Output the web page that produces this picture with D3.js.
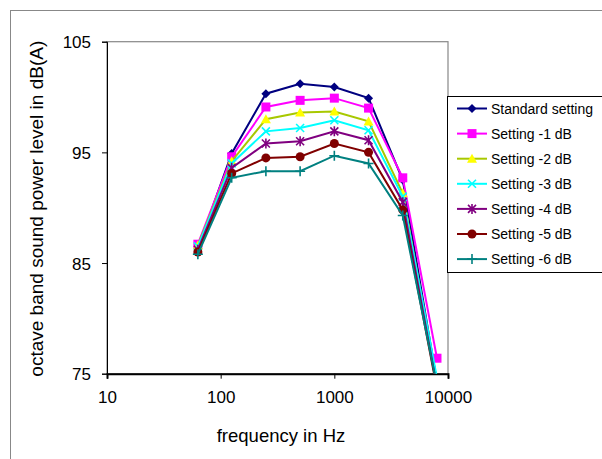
<!DOCTYPE html>
<html lang="en">
<head>
<meta charset="utf-8">
<script src="https://d3js.org/d3.v7.min.js"></script>
<title>Octave band sound power level</title>
<style>
  body { margin:0; background:#fff; }
  svg { display:block; font-family:"Liberation Sans", Arial, sans-serif; }
  .axis path, .axis line { stroke:#000; }
  .axis text { font-size:17px; fill:#000; font-family:"Liberation Sans", Arial, sans-serif; }
</style>
</head>
<body>
<script>
var width = 602, height = 459;

// data
var freqs = [63, 125, 250, 500, 1000, 2000, 4000, 8000];
var seriesNames = ["Standard setting", "Setting -1 dB", "Setting -2 dB", "Setting -3 dB",
                   "Setting -4 dB", "Setting -5 dB", "Setting -6 dB"];
var standard = [86.3, 94.9, 100.3, 101.2, 100.9, 99.9, 92.5, 74.2];
var minus1   = [86.7, 94.6, 99.1, 99.7, 99.9, 99.0, 92.7, 76.4];
var minus2   = [86.6, 94.2, 98.0, 98.6, 98.7, 97.8, 91.3, 74.3];
var minus3   = [86.5, 94.0, 96.9, 97.2, 97.9, 97.0, 91.0, 74.6];
var minus4   = [86.2, 93.6, 95.8, 96.0, 96.9, 96.1, 90.5, 73.8];
var minus5   = [86.0, 93.1, 94.5, 94.6, 95.8, 95.0, 89.8, 73.6];
var minus6   = [85.8, 92.7, 93.3, 93.3, 94.7, 94.0, 89.3, 73.9];
var yTicks = [75, 85, 95, 105];
var xTicks = [10, 100, 1000, 10000];

var values = [standard, minus1, minus2, minus3, minus4, minus5, minus6];
var lineColors   = ["#000080", "#ff00ff", "#a8c800", "#00ffff", "#800080", "#800000", "#008080"];
var markerColors = ["#000080", "#ff00ff", "#ffff00", "#00ffff", "#800080", "#800000", "#008080"];
var markerTypes  = ["diamond", "square", "triangle", "x", "star", "circle", "plus"];

var plotLeft = 107, plotRight = 448, plotTop = 41.7, plotBottom = 373.7;

var x = d3.scaleLog().domain([10, 10000]).range([plotLeft, plotRight]);
var y = d3.scaleLinear().domain([75, 105]).range([plotBottom, plotTop]);

var svg = d3.select("body").append("svg")
  .attr("width", width).attr("height", height);

// outer chart border
svg.append("rect").attr("x", 10.5).attr("y", 10.5).attr("width", 640).attr("height", 480)
  .attr("fill", "none").attr("stroke", "#888").attr("stroke-width", 1);

// plot frame
svg.append("rect").attr("x", plotLeft).attr("y", plotTop)
  .attr("width", plotRight - plotLeft).attr("height", plotBottom - plotTop)
  .attr("fill", "none").attr("stroke", "#888").attr("stroke-width", 1.2);

svg.append("defs").append("clipPath").attr("id", "clip")
  .append("rect").attr("x", plotLeft).attr("y", plotTop - 10)
  .attr("width", plotRight - plotLeft + 10).attr("height", plotBottom - plotTop + 10);

// axes
var yAxis = svg.append("g").attr("class", "axis").attr("transform", "translate(" + plotLeft + ",0)")
  .call(d3.axisLeft(y).tickValues(yTicks).tickSize(5).tickPadding(11).tickFormat(d3.format("d")));
yAxis.select(".domain").attr("stroke", "#888");
yAxis.selectAll(".tick line").attr("stroke", "#444");
yAxis.selectAll("text").attr("dy", "0.36em");

var xAxis = svg.append("g").attr("class", "axis").attr("transform", "translate(0," + plotBottom + ")")
  .call(d3.axisBottom(x).tickValues(xTicks).tickSize(5).tickPadding(12).tickFormat(d3.format("d")));
xAxis.select(".domain").attr("stroke-width", 2);

// axis titles
svg.append("text")
  .attr("transform", "translate(43," + ((plotTop + plotBottom) / 2 + 1) + ") rotate(-90)")
  .attr("text-anchor", "middle")
  .style("font-size", "19px")
  .text("octave band sound power level in dB(A)");

svg.append("text")
  .attr("x", 281).attr("y", 442)
  .attr("text-anchor", "middle")
  .style("font-size", "18.5px")
  .text("frequency in Hz");

// markers
function marker(g, type, color) {
  if (type === "diamond") {
    g.append("path").attr("d", "M0,-4.5L4.5,0L0,4.5L-4.5,0Z").attr("fill", color);
  } else if (type === "square") {
    g.append("rect").attr("x", -4.5).attr("y", -4.5).attr("width", 9).attr("height", 9).attr("fill", color);
  } else if (type === "triangle") {
    g.append("path").attr("d", "M0,-5L5,4L-5,4Z").attr("fill", color);
  } else if (type === "x") {
    g.append("path").attr("d", "M-4,-4L4,4M-4,4L4,-4").attr("stroke", color).attr("stroke-width", 1.6);
  } else if (type === "star") {
    g.append("path").attr("d", "M-4,-4L4,4M-4,4L4,-4M0,-5L0,5").attr("stroke", color).attr("stroke-width", 1.6);
  } else if (type === "circle") {
    g.append("circle").attr("r", 4.5).attr("fill", color);
  } else if (type === "plus") {
    g.append("path").attr("d", "M-5,0L5,0M0,-5L0,5").attr("stroke", color).attr("stroke-width", 1.6);
  }
}

var line = d3.line().x(function(d) { return x(d.f); }).y(function(d) { return y(d.v); });

var plot = svg.append("g");
values.forEach(function(vals, i) {
  var pts = freqs.map(function(f, j) { return {f: f, v: vals[j]}; });
  var g = plot.append("g");
  g.append("path").datum(pts)
    .attr("clip-path", "url(#clip)")
    .attr("d", line)
    .attr("fill", "none")
    .attr("stroke", lineColors[i])
    .attr("stroke-width", 2);
  g.selectAll(".m").data(pts.filter(function(d) { return d.v >= 75; })).enter()
    .append("g").attr("class", "m")
    .attr("transform", function(d) { return "translate(" + x(d.f) + "," + y(d.v) + ")"; })
    .each(function() { marker(d3.select(this), markerTypes[i], markerColors[i]); });
});

// legend
var legend = svg.append("g");
legend.append("rect").attr("x", 447.5).attr("y", 96.5).attr("width", 200).attr("height", 176)
  .attr("fill", "#fff").attr("stroke", "#000").attr("stroke-width", 1);
seriesNames.forEach(function(name, i) {
  var ly = 108.5 + i * 25.1;
  var g = legend.append("g");
  g.append("line").attr("x1", 457).attr("x2", 487).attr("y1", ly).attr("y2", ly)
    .attr("stroke", lineColors[i]).attr("stroke-width", 2);
  marker(g.append("g").attr("transform", "translate(472," + ly + ")"), markerTypes[i], markerColors[i]);
  g.append("text").attr("x", 491).attr("y", ly + 5).style("font-size", "14px").text(name);
});
</script>
</body>
</html>
